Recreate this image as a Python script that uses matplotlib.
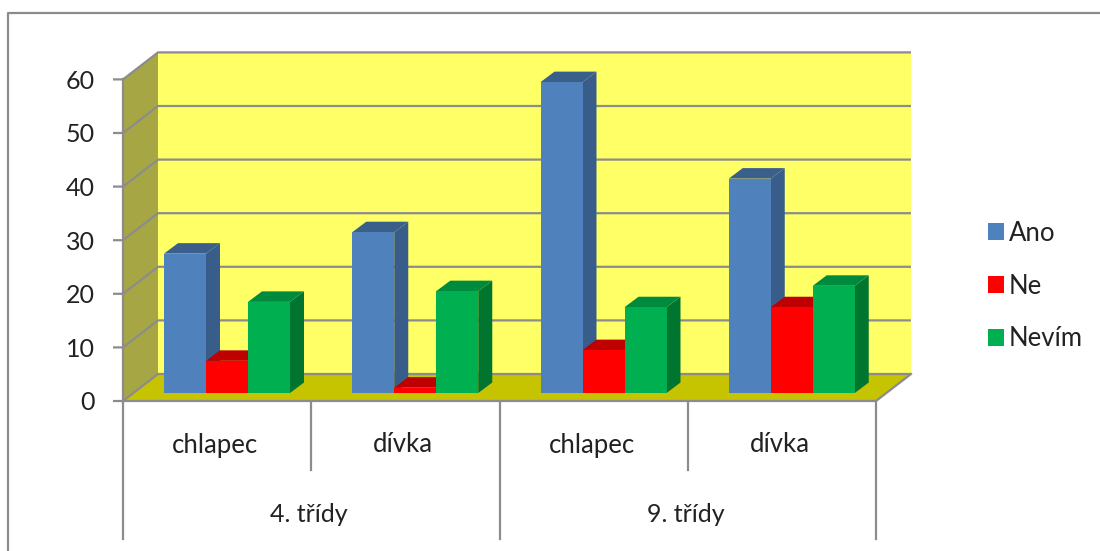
import numpy as np
import matplotlib
matplotlib.use('Agg')
import matplotlib.pyplot as plt
from matplotlib.patches import Polygon, Patch

#DATA
classes = ['4. třídy', '9. třídy']
genders = ['chlapec', 'dívka', 'chlapec', 'dívka']
ano = [26, 30, 58, 40]
ne = [6, 1, 8, 16]
nevim = [17, 19, 16, 20]
y_ticks = [0, 10, 20, 30, 40, 50, 60]
series_names = ['Ano', 'Ne', 'Nevím']

#COLOURS (front, side, top)
colors = [('#4F81BD', '#385D8A', '#3A5F8B'),
          ('#FF0000', '#BE0000', '#BE0000'),
          ('#00B050', '#00752F', '#008A3E')]
wall_color = '#FFFF66'
side_wall_color = '#A6A645'
floor_color = '#C6C300'
line_color = '#8C8C8C'
text_color = '#222222'

#LAYOUT, pixels of the 1100x551 picture
X0, Y0 = 123, 401
SX, SY = 188.25, 5.36
W, H = 1100, 551


def px(x):
    return (x - X0) / SX


def py(y):
    return (Y0 - y) / SY


depth_x = 35 / SX
depth_y = 27 / SY
bar_width = 42 / SX
bar_start = 41 / SX
bar_lift = 8 / SY
bar_depth_x = 14 / SX
bar_depth_y = 10.5 / SY
label_shift = -2 / SX

plt.rcParams['font.family'] = ['Lato', 'DejaVu Sans']
fig = plt.figure(figsize=(W / 100, H / 100), dpi=100)
ax = fig.add_axes([0, 0, 1, 1])
ax.set_xlim(px(0), px(W))
ax.set_ylim(py(H), py(0))
ax.axis('off')

n_cat = len(genders)
top = y_ticks[-1]

# walls and floor
ax.add_patch(Polygon([(depth_x, depth_y), (n_cat + depth_x, depth_y),
                      (n_cat + depth_x, top + depth_y), (depth_x, top + depth_y)],
                     facecolor=wall_color, edgecolor='none', zorder=1))
ax.add_patch(Polygon([(0, 0), (depth_x, depth_y), (depth_x, top + depth_y), (0, top)],
                     facecolor=side_wall_color, edgecolor='none', zorder=1))
ax.add_patch(Polygon([(0, 0), (n_cat, 0), (n_cat + depth_x, depth_y), (depth_x, depth_y)],
                     facecolor=floor_color, edgecolor='none', zorder=1))

# gridlines and y axis
for t in y_ticks:
    ax.plot([-10 / SX, 0, depth_x, n_cat + depth_x], [t, t, t + depth_y, t + depth_y],
            color=line_color, lw=1.6, zorder=2, solid_capstyle='butt')
    ax.text(px(95), t, str(t), ha='right', va='center_baseline', fontsize=18, color=text_color)
ax.plot([0, 0], [0, top], color=line_color, lw=1.6, zorder=3)

# bars, left to right so each one covers the side of the previous one
z = 4
for i in range(n_cat):
    for j, vals in enumerate([ano, ne, nevim]):
        front, side, roof = colors[j]
        left = i + bar_start + j * bar_width
        right = left + bar_width
        v = vals[i] + bar_lift
        ax.add_patch(Polygon([(right, bar_lift), (right + bar_depth_x, bar_lift + bar_depth_y),
                              (right + bar_depth_x, v + bar_depth_y), (right, v)],
                             facecolor=side, edgecolor='none', zorder=z))
        ax.add_patch(Polygon([(left, v), (right, v), (right + bar_depth_x, v + bar_depth_y),
                              (left + bar_depth_x, v + bar_depth_y)],
                             facecolor=roof, edgecolor='none', zorder=z))
        ax.bar(left, vals[i], width=bar_width, bottom=bar_lift, align='edge',
               color=front, linewidth=0, zorder=z + 0.5)
        z += 1

# category axis
ax.plot([0, n_cat, n_cat + depth_x], [0, 0, depth_y], color=line_color, lw=1.6, zorder=z)
for i in range(n_cat + 1):
    low = py(539) if i % 2 == 0 else py(470)
    ax.plot([i, i], [0, low], color=line_color, lw=1.6, zorder=z)
for i, g in enumerate(genders):
    ax.text(i + 0.5 + label_shift, py(445), g, ha='center', va='center', fontsize=18.5, color=text_color)
for i, c in enumerate(classes):
    ax.text(2 * i + 1 + label_shift, py(514), c, ha='center', va='center', fontsize=18, color=text_color)

# outer frame, cut by the picture edge on the right and bottom
ax.plot([px(8), px(8), px(W)], [py(H), py(13), py(13)], color=line_color, lw=1.6)

handles = [Patch(facecolor=colors[k][0], edgecolor='none') for k in range(len(series_names))]
ax.legend(handles, series_names, loc='center left', bbox_to_anchor=(988 / W, 1 - 286 / H),
          frameon=False, fontsize=18.5, labelspacing=1.08, handlelength=0.62, handleheight=0.62,
          handletextpad=0.2, borderpad=0, borderaxespad=0, labelcolor=text_color)

plt.savefig('out.png', dpi=100)
